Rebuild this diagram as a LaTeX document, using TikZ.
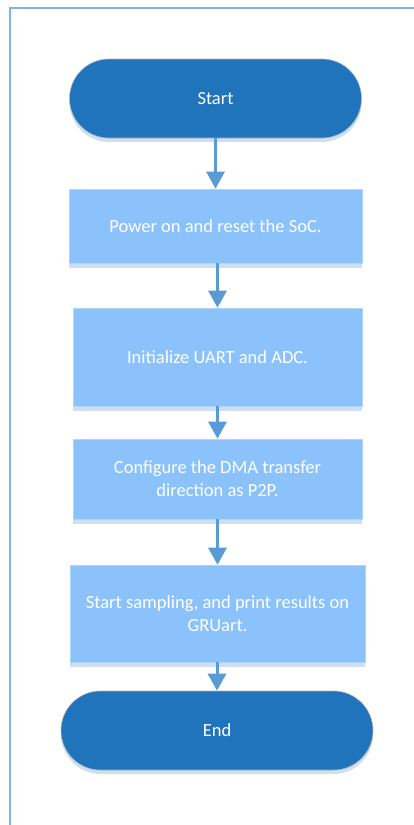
\documentclass[tikz,border=0pt]{standalone}
\usepackage{fontspec}
\setmainfont{Carlito}
\usetikzlibrary{shadows,arrows.meta}
\definecolor{termblue}{HTML}{1F74BC}
\definecolor{boxblue}{HTML}{8CC2FC}
\definecolor{wireblue}{HTML}{5B9BD5}
\definecolor{shadeblue}{HTML}{CFDFF1}
\definecolor{frameblue}{HTML}{7DB5E0}
\tikzstyle{term}=[fill=termblue, draw=gray!60, line width=0.6pt, text=white, inner sep=0pt, minimum height=79pt, rounded corners=39.5pt, drop shadow={shadow xshift=0pt, shadow yshift=-4pt, fill=shadeblue, opacity=1}]
\tikzstyle{stepbox}=[fill=boxblue, draw=boxblue!70!white, line width=0.6pt, text=white, inner sep=0pt, align=center, drop shadow={shadow xshift=0pt, shadow yshift=-5pt, fill=shadeblue, opacity=1}]
\tikzstyle{wire}=[-{Triangle[width=18pt,length=17pt]}, draw=wireblue, fill=wireblue, line width=3pt]

\begin{document}
\begin{tikzpicture}[x=1pt, y=-1pt, font=\fontsize{18.5}{23}\selectfont]
    \useasboundingbox (0, 0) rectangle (413, 825);
    \draw [frameblue, line width=2pt] (10, 826) -- (10, 8) -- (414, 8);

    \node [term, minimum width=292pt] (start) at (215.5, 98.5) {Start};
    \node [stepbox, minimum width=293pt, minimum height=74pt] (power) at (215.5, 226) {Power on and reset the SoC.};
    \node [stepbox, minimum width=289pt, minimum height=98pt] (init) at (217.5, 357) {Initialize UART and ADC.};
    \node [stepbox, minimum width=289pt, minimum height=80pt] (dma) at (217.5, 479) {Configure the DMA transfer\\direction as P2P.};
    \node [stepbox, minimum width=295pt, minimum height=97pt] (sample) at (217.5, 613.5) {Start sampling, and print results on\\GRUart.};
    \node [term, minimum width=312pt] (end) at (217, 730.5) {End};

    \draw [wire] (start.south) -- (start.south |- power.north);
    \draw [wire] (init.north |- power.south) -- (init.north);
    \draw [wire] (dma.north |- init.south) -- (dma.north);
    \draw [wire] (sample.north |- dma.south) -- (sample.north);
    \draw [wire] (end.north |- sample.south) -- (end.north);
\end{tikzpicture}
\end{document}
